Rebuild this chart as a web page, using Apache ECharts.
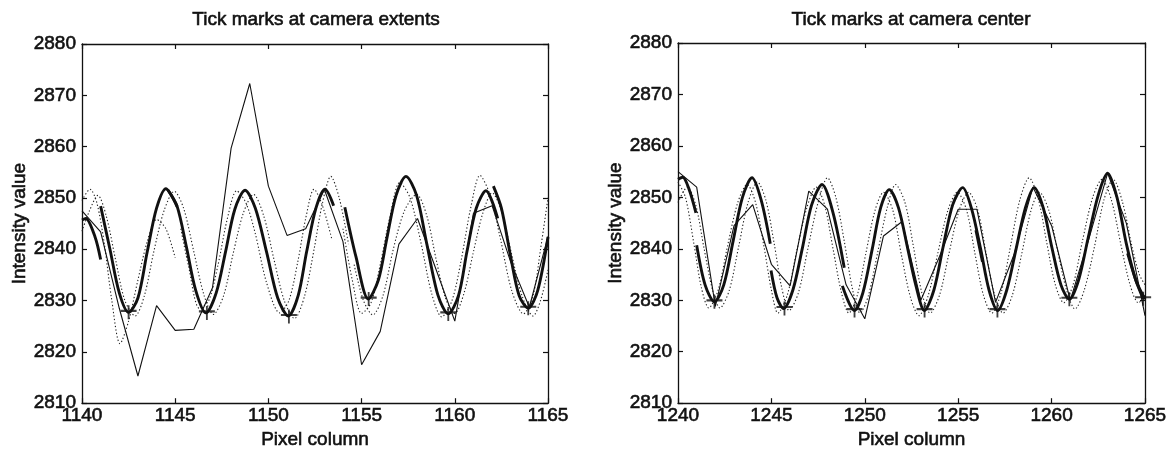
<!DOCTYPE html>
<html><head><meta charset="utf-8">
<script src="https://cdn.jsdelivr.net/npm/echarts@6/dist/echarts.min.js"></script>
<style>html,body{margin:0;padding:0;background:#fff}#c{width:1172px;height:455px}</style>
</head><body><div id="c"></div>
<script>
const titles = ['Tick marks at camera extents', 'Tick marks at camera center'];
const xName = 'Pixel column';
const yName = 'Intensity value';
const leftXRange = [1140, 1165];
const rightXRange = [1240, 1265];
const yRange = [2810, 2880];

const leftRaw = [[1140,2847.5],[1141,2843.4],[1142,2828.5],[1143,2815.3],[1144,2829],[1145,2824.2],[1146,2824.4],[1147,2832.5],[1148,2859.7],[1149,2872.3],[1150,2852.3],[1151,2842.7],[1152,2844],[1153,2851.7],[1154,2841.5],[1155,2817.5],[1156,2824],[1157,2841],[1158,2846],[1159,2836],[1160,2826],[1161,2847],[1162,2848.5],[1163,2837.5],[1164,2828.7],[1165,2842.5]];

const leftFit = [
 [[1140,2845.7],[1140.2,2846],[1140.7,2842.4],[1141,2838]],
 [[1141.0,2848.4],[1141.5,2840],[1142.0,2831.5],[1142.5,2827.7],[1143.0,2830.5],[1143.5,2839.5],[1144.0,2848],[1144.5,2851.8],[1145.1,2848.3]],
 [[1144.6,2851.6],[1145.1,2848.4],[1145.6,2840.5],[1146.1,2832],[1146.65,2827.6],[1147.2,2831.5],[1147.7,2839.5],[1148.2,2847.8],[1148.75,2851.5],[1149.3,2848],[1149.9,2839.5],[1150.5,2830.5],[1151.07,2827],[1151.6,2831],[1152.05,2839.5],[1152.55,2848],[1153.04,2851.7],[1153.5,2848.5]],
 [[1154.1,2848.2],[1154.7,2838.5],[1155.36,2830.3],[1155.9,2834],[1156.35,2842],[1156.85,2850.5],[1157.38,2854.2],[1157.95,2850.5],[1158.5,2841],[1159.1,2831],[1159.65,2827.4],[1160.2,2831],[1160.65,2839.5],[1161.15,2848],[1161.67,2851.4],[1162.3,2846]],
 [[1162.07,2852.3],[1162.5,2848],[1163.0,2838.5],[1163.45,2831],[1163.94,2828.5],[1164.45,2832],[1165,2842.4]]
];

const leftDotA = [
 [[1140,2849.5],[1140.43,2851.7],[1140.8,2849],[1141.2,2841],[1141.6,2830],[1142.04,2821.6],[1142.5,2826],[1143.0,2834],[1143.5,2841.5],[1144.0,2845.8],[1144.5,2844],[1145.0,2838.3]],
 [[1145.3,2844],[1145.7,2837],[1146.3,2828.5],[1146.8,2830],[1147.3,2837],[1147.8,2846],[1148.3,2851.4],[1148.8,2849],[1149.3,2843],[1149.9,2833.5],[1150.6,2827.6],[1151.1,2830],[1151.6,2838],[1152.0,2846],[1152.45,2851.7],[1152.9,2848.5],[1153.4,2842]],
 [[1154.0,2844],[1154.5,2834],[1155.0,2827.5],[1155.5,2829.5],[1156.0,2837],[1156.5,2846],[1157.05,2853],[1157.6,2850],[1158.2,2841],[1158.75,2831.5],[1159.3,2826.8],[1159.85,2830],[1160.35,2838],[1160.85,2848],[1161.35,2854.4],[1161.9,2850.5],[1162.45,2842],[1163.05,2832],[1163.68,2827.4],[1164.2,2831],[1164.6,2840],[1165,2850]]
];
const leftDotB = [
 [[1140,2843.5],[1140.4,2847.5],[1140.85,2850.5],[1141.3,2846.5],[1141.8,2838],[1142.3,2830],[1142.85,2827],[1143.35,2831],[1143.85,2839.5],[1144.4,2847.5],[1144.95,2851.3],[1145.45,2848],[1146.0,2839.5],[1146.55,2831],[1147.05,2827.3],[1147.6,2831],[1148.1,2839],[1148.65,2847],[1149.2,2850.7],[1149.75,2846.5],[1150.3,2838],[1150.85,2830],[1151.4,2826.5],[1151.95,2831],[1152.45,2840],[1152.9,2849],[1153.35,2854.2],[1153.8,2850],[1154.3,2841]],
 [[1154.6,2837],[1155.1,2830],[1155.6,2827.2],[1156.15,2831],[1156.7,2840],[1157.3,2847.5],[1157.95,2850.7],[1158.5,2846.5],[1159.0,2838],[1159.5,2830.5],[1160.0,2827.5],[1160.5,2831.5],[1161.0,2839.5],[1161.5,2847],[1162.0,2851],[1162.5,2847.5],[1163.05,2839],[1163.6,2831],[1164.2,2827],[1164.6,2830],[1165,2836]]
];
const leftMarks = [[1142.5,2827.7],[1146.7,2827.6],[1151.1,2826.9],[1155.38,2830.3],[1159.65,2827.4],[1163.94,2828.5]];

const rightRaw = [[1240,2855],[1241,2852],[1242,2828.8],[1243,2844.5],[1244,2848.6],[1245,2837],[1246,2832.8],[1247,2851.2],[1248,2847.7],[1249,2833],[1250,2826.4],[1251,2842.5],[1252,2845.3],[1253,2830],[1254,2838.5],[1255,2847.7],[1256,2847.7],[1257,2829.6],[1258,2839],[1259,2852],[1260,2844.5],[1261,2830],[1262,2842],[1263,2854.7],[1264,2845],[1265,2827]];

const rightFit = [
 [[1240,2853.5],[1240.25,2853.9],[1240.6,2851.5],[1240.96,2847]],
 [[1241.0,2840.7],[1241.45,2833],[1241.95,2829.7],[1242.45,2833],[1242.95,2841.5],[1243.45,2850],[1243.96,2853.8],[1244.45,2849.5],[1244.94,2841]],
 [[1244.98,2835.8],[1245.3,2830.5],[1245.65,2828.4],[1246.15,2832],[1246.65,2840],[1247.15,2848.5],[1247.71,2852.5],[1248.3,2847],[1248.9,2836.3]],
 [[1248.8,2832.8],[1249.44,2828],[1249.9,2831.5],[1250.4,2840],[1250.85,2848],[1251.31,2851.5],[1251.8,2848],[1252.3,2840],[1252.74,2832.8],[1253.19,2828],[1253.7,2832],[1254.2,2840.5],[1254.7,2848.5],[1255.24,2851.9],[1255.7,2848],[1256.2,2840],[1256.65,2832],[1257.11,2828],[1257.6,2832],[1258.1,2840],[1258.6,2848],[1259.07,2851.9],[1259.55,2848],[1260.0,2840.5],[1260.5,2833],[1260.95,2830.2],[1261.45,2834],[1261.95,2842],[1262.5,2850.5],[1263.0,2854.7],[1263.5,2850],[1264.0,2841],[1264.5,2834],[1265,2830.2]],
 [[1255.95,2843.6],[1256.3,2837.5]],
 [[1264.07,2839.1],[1264.5,2834],[1264.9,2830.3]]
];
const rightDotA = [
 [[1240,2853],[1240.4,2850],[1240.85,2841],[1241.25,2832.5],[1241.65,2828.5],[1242.15,2832],[1242.65,2840.5],[1243.2,2849],[1243.7,2852.5],[1244.15,2849],[1244.6,2840.5],[1245.0,2832],[1245.35,2827.5],[1245.85,2831],[1246.35,2839.5],[1246.9,2848],[1247.4,2852],[1247.85,2848.5],[1248.3,2840],[1248.75,2831.5],[1249.15,2827.5],[1249.6,2831],[1250.05,2839],[1250.55,2847.5],[1251.0,2851],[1251.5,2847.5],[1251.95,2839],[1252.45,2830.5],[1252.9,2827],[1253.4,2831],[1253.9,2839],[1254.45,2847.5],[1254.95,2851],[1255.45,2847.5],[1255.9,2839],[1256.35,2831],[1256.8,2827.5],[1257.3,2831.5],[1257.8,2840.5],[1258.3,2849.5],[1258.8,2853.8],[1259.3,2849.5],[1259.75,2841],[1260.2,2833],[1260.65,2829.5],[1261.15,2833],[1261.65,2841.5],[1262.2,2850],[1262.7,2853.5],[1263.2,2849.5],[1263.7,2841],[1264.2,2833],[1264.65,2829.5],[1265,2831]]
];
const rightDotB = [
 [[1240,2849],[1240.5,2852],[1240.95,2848.5],[1241.4,2840],[1241.85,2832],[1242.25,2828.5],[1242.75,2832],[1243.25,2840.5],[1243.75,2849],[1244.25,2853],[1244.7,2849.5],[1245.15,2841],[1245.55,2832.5],[1245.95,2828],[1246.45,2831.5],[1246.95,2840],[1247.5,2849],[1248.0,2853.8],[1248.45,2850],[1248.9,2841.5],[1249.35,2832],[1249.75,2827.5],[1250.2,2831],[1250.7,2839.5],[1251.2,2848],[1251.65,2852.5],[1252.15,2849],[1252.6,2840.5],[1253.05,2831.5],[1253.5,2827.5],[1254.0,2831],[1254.5,2839],[1255.05,2847.5],[1255.55,2851],[1256.05,2847.5],[1256.5,2839],[1256.95,2831],[1257.4,2827.5],[1257.9,2831],[1258.4,2839],[1258.9,2847.5],[1259.35,2851],[1259.85,2847.5],[1260.3,2840],[1260.8,2832],[1261.25,2828.3],[1261.75,2832],[1262.3,2840.5],[1262.8,2849.5],[1263.3,2853.5],[1263.8,2849],[1264.3,2840.5],[1264.7,2835],[1265,2833]]
];
const rightMarks = [[1241.95,2829.7],[1245.7,2828.4],[1249.45,2828],[1253.2,2828],[1257.1,2828],[1260.95,2830.2],[1264.9,2830.3]];

const FONT = 'Liberation Sans';
const INK = '#111';
const TXT = {fontSize: 19, fontFamily: FONT, color: INK, textBorderColor: INK, textBorderWidth: 0.6};
const chart = echarts.init(document.getElementById('c'), null, {renderer: 'canvas'});

const grids = [
  {left: 82, top: 44, width: 466, height: 365},
  {left: 678, top: 43, width: 467, height: 366}
];
const ranges = [leftXRange, rightXRange];

function xAxes(gi) {
  const base = {gridIndex: gi, type: 'value', min: ranges[gi][0], max: ranges[gi][1], interval: 5,
    axisLine: {show: true, onZero: false, lineStyle: {color: INK, width: 1.3}},
    axisTick: {show: true, inside: true, length: 5, lineStyle: {color: INK, width: 1.2}},
    splitLine: {show: false}};
  return [
    Object.assign({}, base, {position: 'bottom',
      axisLabel: Object.assign({show: true, margin: 3, formatter: v => String(v)}, TXT),
      name: xName, nameLocation: 'middle', nameGap: 24,
      nameTextStyle: Object.assign({}, TXT)}),
    Object.assign({}, base, {position: 'top', axisLabel: {show: false}})
  ];
}
function yAxes(gi) {
  const base = {gridIndex: gi, type: 'value', min: yRange[0], max: yRange[1], interval: 10,
    axisLine: {show: true, onZero: false, lineStyle: {color: INK, width: 1.3}},
    axisTick: {show: true, inside: true, length: 5, lineStyle: {color: INK, width: 1.2}},
    splitLine: {show: false}};
  return [
    Object.assign({}, base, {position: 'left',
      axisLabel: Object.assign({show: true, margin: 6, formatter: v => String(v)}, TXT),
      name: yName, nameLocation: 'middle', nameGap: 49,
      nameTextStyle: Object.assign({}, TXT)}),
    Object.assign({}, base, {position: 'right', axisLabel: {show: false}})
  ];
}

const series = [];
function addLines(segs, gi, style, smooth, z) {
  segs.forEach(d => series.push({type: 'line', xAxisIndex: gi * 2, yAxisIndex: gi * 2, data: d,
    showSymbol: false, symbol: 'none', smooth: smooth, lineStyle: style, silent: true, z: z}));
}
const dotStyle = {color: '#222', width: 1.1, type: [1.3, 2.2]};
const fitStyle = {color: INK, width: 2.9};
const rawStyle = {color: INK, width: 1.1};
const plus = 'path://M0,4.4H14V6.6H0Z M6.2,0H7.8V14H6.2Z';

[[leftRaw, leftFit, leftDotA, leftDotB, leftMarks], [rightRaw, rightFit, rightDotA, rightDotB, rightMarks]].forEach((p, gi) => {
  addLines(p[2], gi, dotStyle, 0.3, 2);
  addLines(p[3], gi, dotStyle, 0.3, 2);
  addLines([p[0]], gi, rawStyle, false, 3);
  addLines(p[1], gi, fitStyle, 0.3, 4);
  series.push({type: 'scatter', xAxisIndex: gi * 2, yAxisIndex: gi * 2, data: p[4], symbol: plus,
    symbolSize: [16, 14], itemStyle: {color: INK}, silent: true, z: 5});
});

const titleStyle = {font: '19px "Liberation Sans"', fill: INK, stroke: INK, lineWidth: 0.6,
  align: 'center', verticalAlign: 'top', textAlign: 'center', textVerticalAlign: 'top'};
chart.setOption({
  animation: false,
  backgroundColor: '#fff',
  grid: grids.map(g => Object.assign({containLabel: false}, g)),
  xAxis: [...xAxes(0), ...xAxes(1)],
  yAxis: [...yAxes(0), ...yAxes(1)],
  graphic: [
    {type: 'text', x: 316, y: 10, style: Object.assign({text: titles[0]}, titleStyle)},
    {type: 'text', x: 911, y: 10, style: Object.assign({text: titles[1]}, titleStyle)}
  ],
  series: series
});
</script></body></html>
